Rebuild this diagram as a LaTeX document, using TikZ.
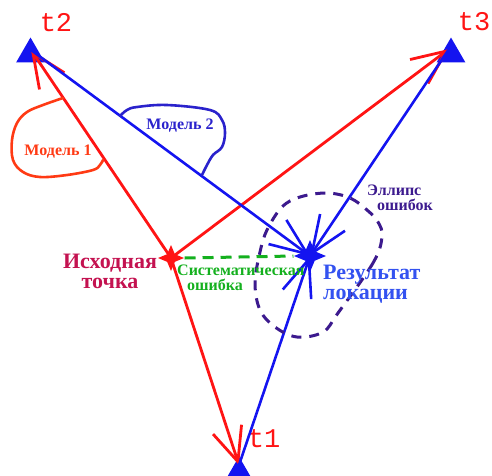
\documentclass[tikz,border=0pt]{standalone}
\usepackage{fontspec}
\setmainfont{Liberation Serif}
\newfontfamily\stationfont{Liberation Mono}
\usetikzlibrary{arrows.meta,shapes.geometric}
\definecolor{ray}{HTML}{FF1414}
\definecolor{beam}{HTML}{1414F0}
\definecolor{modelone}{HTML}{FF3A14}
\definecolor{modeltwo}{HTML}{2A22CC}
\definecolor{origin}{HTML}{C41250}
\definecolor{result}{HTML}{3352F0}
\definecolor{bias}{HTML}{14B01E}
\definecolor{spread}{HTML}{3C1A8E}
\tikzset{
  redray/.style={-{Straight Barb[length=34pt,width=30pt]}, line width=2.8pt, draw=ray},
  blueray/.style={-{Straight Barb[length=37pt,width=30pt]}, line width=2.6pt, draw=beam},
  station/.style={regular polygon, regular polygon sides=3, fill=beam, inner sep=0pt, minimum size=33pt},
  tlabel/.style={font=\stationfont\fontsize{27}{27}\selectfont, text=ray, inner sep=0pt},
  hand/.style={line width=2.6pt, line cap=round, line join=round},
  tag/.style={font=\bfseries\fontsize{16}{15}\selectfont, inner sep=0pt},
  bigtag/.style={font=\bfseries\fontsize{22}{20}\selectfont, inner sep=0pt},
  pointstar/.style={star, star points=4, star point ratio=2.4, inner sep=0pt, minimum size=26pt},
}

\begin{document}
\begin{tikzpicture}[x=1pt, y=-1pt]
\useasboundingbox (0,0) rectangle (492,475);

% --- stations -------------------------------------------------------------------------
\coordinate (s1) at (239,465);
\coordinate (s2) at (31,50);
\coordinate (s3) at (449,49);
\node[station] (st1) at (239,473) {};
\node[station] (st2) at (30.5,54) {};
\node[station] (st3) at (451,54) {};
\node[tlabel] (lt1) at (264,439) {t1};
\node[tlabel] (lt2) at (56,23) {t2};
\node[tlabel] (lt3) at (474,22) {t3};

% --- points ---------------------------------------------------------------------------
\node[pointstar, fill=ray] (src) at (171,258) {};
\node[pointstar, fill=beam, minimum size=32pt] (res) at (310,256) {};

% --- rays -----------------------------------------------------------------------------
\draw[redray] (src.center) -- (s2);
\draw[redray] (src.center) -- (s3);
\draw[redray] (src.center) -- (s1);
\draw[blueray] (s2) -- (res.center);
\draw[blueray] (s3) -- (res.center);
\draw[blueray] (s1) -- (res.center);
\draw[bias, line width=3pt, dash pattern=on 11pt off 7pt] (src.east) -- (res.west);

% --- error ellipse ----------------------------------------------------------------------
\draw[spread, line width=3pt, dash pattern=on 10pt off 8pt]
  plot[smooth cycle, tension=0.6] coordinates {(382,237) (373,263) (338,313) (323,332) (297,337)
  (275,327) (260,310) (255,283) (260,252) (267,230) (282,207) (300,197) (327,193) (350,198)
  (367,210) (378,222)};

% --- model callouts -------------------------------------------------------------------
\draw[hand, modelone] plot[smooth, tension=0.6] coordinates {(63,98) (43,105) (27,112) (17,123)
  (12,140) (13,160) (23,172) (40,177) (67,175) (93,170) (100,165) (103,160)};
\draw[hand, modeltwo] plot[smooth, tension=0.6] coordinates {(120,116) (127,110) (137,107)
  (167,105) (210,110) (222,120) (225,133) (222,147) (213,155) (207,165) (202,175)};

% --- labels ---------------------------------------------------------------------------
\node[tag, text=modelone] (m1) at (58,152) {Модель 1};
\node[tag, text=modeltwo] (m2) at (180,126) {Модель 2};
\node[bigtag, text=origin, align=center] (lsrc) at (110,271) {Исходная\\точка};
\node[bigtag, text=result, align=left, anchor=west] (lres) at (323,284) {Результат\\локации};
\node[tag, text=bias, align=left, anchor=north west] (lbias) at (177,265)
  {Систематическая\\\hspace*{10pt}ошибка};
\node[tag, text=spread, align=left, anchor=north west] (lspread) at (367,185)
  {Эллипс\\\hspace*{10pt}ошибок};

\end{tikzpicture}
\end{document}
